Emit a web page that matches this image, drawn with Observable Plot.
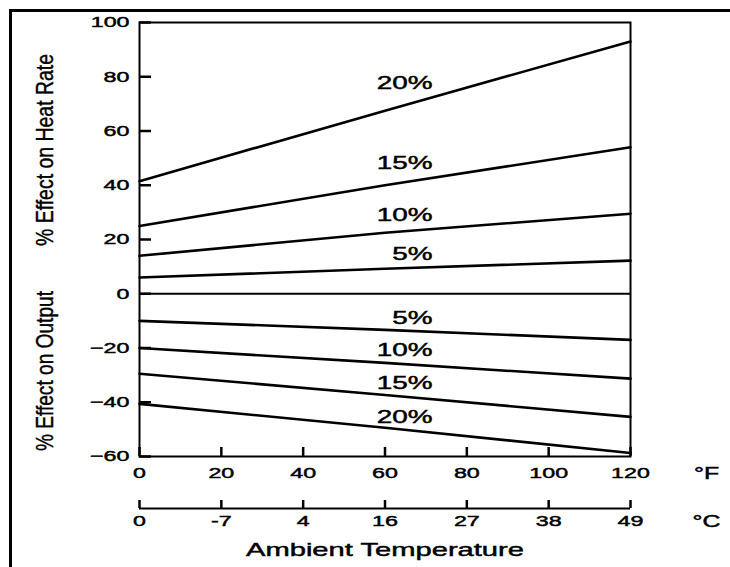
<!DOCTYPE html>
<html><head><meta charset="utf-8">
<script src="https://cdn.jsdelivr.net/npm/d3@7"></script>
<script src="https://cdn.jsdelivr.net/npm/@observablehq/plot@0.6"></script>
<style>
body{margin:0;background:#fff;}
#wrap{position:relative;width:730px;height:567px;overflow:hidden;background:#fff;}
#chart{position:absolute;left:0;top:0;}
#chart svg text{stroke:#000;stroke-width:0.45px;}
#border{position:absolute;left:9px;top:9px;right:-5px;bottom:-5px;border-top:3px solid #000;border-left:3px solid #000;pointer-events:none;}
</style></head><body>
<div id="wrap"><div id="chart"></div><div id="border"></div></div>
<script>
// Ambient temperature (°F) at which values were read
const tempF = [0, 60, 120];
// % effect on heat rate
const heatRate20 = [41.5, 67.5, 93];
const heatRate15 = [25, 40, 54];
const heatRate10 = [14, 22.5, 29.5];
const heatRate5  = [6, 9.2, 12.2];
// % effect on output
const output5  = [-10, -13.3, -17];
const output10 = [-20, -25.5, -31.3];
const output15 = [-29.5, -37.3, -45.4];
const output20 = [-40.6, -49.4, -58.7];

const seriesNames = ["HR 20%", "HR 15%", "HR 10%", "HR 5%", "Out 5%", "Out 10%", "Out 15%", "Out 20%"];
const seriesValues = [heatRate20, heatRate15, heatRate10, heatRate5, output5, output10, output15, output20];

// Curve labels
const curveLabels = ["20%", "15%", "10%", "5%", "5%", "10%", "15%", "20%"];
const curveLabelX = [71.6, 71.6, 71.6, 71.6, 71.6, 71.6, 71.6, 71.6];
const curveLabelY = [77.5, 48, 28.8, 14.4, -9.2, -20.7, -33, -45.6];

// Axis ticks
const yTicks = [100, 80, 60, 40, 20, 0, -20, -40, -60];
const fTicks = [0, 20, 40, 60, 80, 100, 120];
const cLabels = ["0", "-7", "4", "16", "27", "38", "49"];

// Titles
const yTitles = ["% Effect on Heat Rate", "% Effect on Output"];
const yTitleCenters = [53, -28.5];
const xTitle = "Ambient Temperature";

const rows = [];
seriesNames.forEach((s, i) => tempF.forEach((t, j) => rows.push({series: s, t, v: seriesValues[i][j]})));
const labelRows = curveLabels.map((l, i) => ({label: l, x: curveLabelX[i], y: curveLabelY[i]}));
const titleRows = yTitles.map((t, i) => ({title: t, y: yTitleCenters[i]}));
const cMap = new Map(fTicks.map((f, i) => [f, cLabels[i]]));

const W = 730, H = 567, ML = 139, MR = 100, MT = 22, MB = 111;
const FW = W - ML - MR, FH = H - MT - MB;
const xDomain = [0, 120], yDomain = [-60, 100];
// inward tick lengths (pixels) converted to data units
const yTickLen = 12 * (xDomain[1] - xDomain[0]) / FW;
const xTickLen = 9 * (yDomain[1] - yDomain[0]) / FH;
const cTickLen = 8 * (yDomain[1] - yDomain[0]) / FH;
const font = "'Liberation Sans', Arial, Helvetica, sans-serif";

const svg = Plot.plot({
  width: W, height: H,
  marginLeft: ML, marginRight: MR, marginTop: MT, marginBottom: MB,
  style: {fontFamily: font, fontSize: "15px", color: "#000", background: "transparent", overflow: "visible"},
  x: {domain: xDomain},
  y: {domain: yDomain},
  marks: [
    Plot.frame({stroke: "#000", strokeWidth: 2}),
    Plot.ruleY([0], {stroke: "#000", strokeWidth: 2}),
    Plot.line(rows, {x: "t", y: "v", z: "series", stroke: "#000", strokeWidth: 2.6}),
    // y ticks (inward)
    Plot.ruleY(yTicks, {y: d => d, x1: xDomain[0], x2: xDomain[0] + yTickLen, stroke: "#000", strokeWidth: 2.5}),
    // °F ticks (inward, up)
    Plot.ruleX(fTicks, {x: d => d, y1: yDomain[0], y2: yDomain[0] + xTickLen, stroke: "#000", strokeWidth: 2.5}),
    // °C scale line and ticks
    Plot.ruleY([yDomain[0]], {dy: 52, stroke: "#000", strokeWidth: 2}),
    Plot.ruleX(fTicks, {x: d => d, y1: yDomain[0], y2: yDomain[0] + cTickLen, dy: 52, stroke: "#000", strokeWidth: 2.5}),
    Plot.axisY({ticks: yTicks, tickSize: 0, tickPadding: 10, fontSize: 15, label: null}),
    Plot.axisX({ticks: fTicks, tickSize: 0, tickPadding: 11, fontSize: 15, label: null}),
    Plot.axisX({ticks: fTicks, tickSize: 0, tickPadding: 11, dy: 48, fontSize: 15, label: null, tickFormat: d => cMap.get(d)}),
    Plot.text(labelRows, {x: "x", y: "y", text: "label", textAnchor: "end", fontSize: 18, fill: "#000"}),
    Plot.text(["°F"], {frameAnchor: "bottom-right", dx: 76, dy: 17, textAnchor: "middle", lineAnchor: "middle", fontSize: 16, fill: "#000"}),
    Plot.text(["°C"], {frameAnchor: "bottom-right", dx: 76, dy: 65, textAnchor: "middle", lineAnchor: "middle", fontSize: 16, fill: "#000"}),
    Plot.text([xTitle], {frameAnchor: "bottom", dy: 93, textAnchor: "middle", lineAnchor: "middle", fontSize: 19, fill: "#000"}),
    Plot.text(titleRows, {y: "y", text: "title", frameAnchor: "left", dx: -94, rotate: -90, textAnchor: "middle", lineAnchor: "middle", fontSize: 24, fill: "#000"})
  ]
});
document.getElementById("chart").append(svg);

// The reference is horizontally stretched: widen horizontal text, compress rotated titles.
const targetLen = {"% Effect on Heat Rate": 192, "% Effect on Output": 160, "Ambient Temperature": 278};
svg.querySelectorAll("text").forEach(t => {
  const L = t.getComputedTextLength();
  if (!L) return;
  const txt = t.textContent;
  const newL = targetLen[txt] !== undefined ? targetLen[txt] : L * 1.55;
  t.setAttribute("textLength", newL.toFixed(1));
  t.setAttribute("lengthAdjust", "spacingAndGlyphs");
});
</script>
</body></html>
